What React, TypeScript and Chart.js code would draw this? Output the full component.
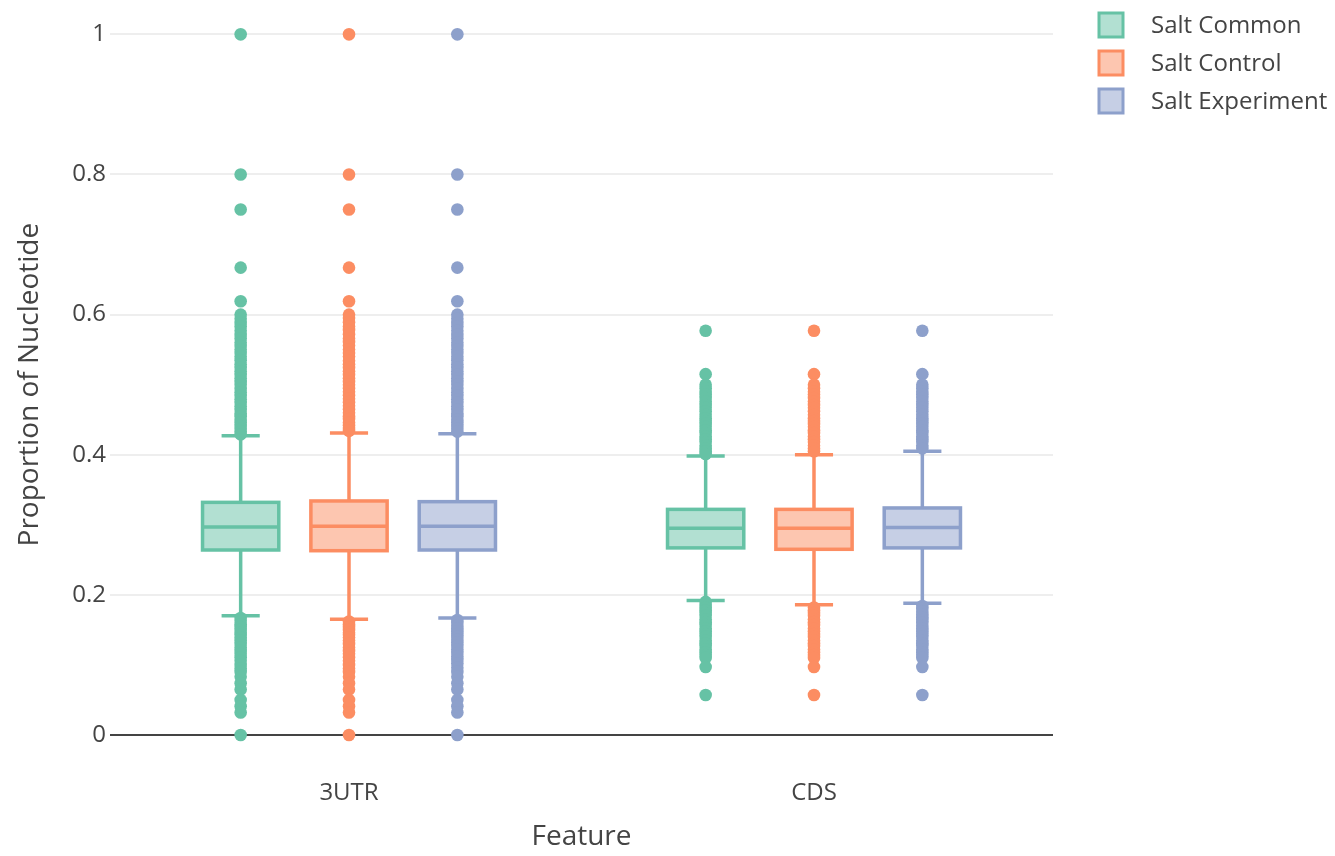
import React, { useEffect, useRef } from "react";
import { Chart, registerables } from "chart.js";

Chart.register(...registerables);

// ---------- data ----------
const categories = ["3UTR", "CDS"];
const seriesNames = ["Salt Common", "Salt Control", "Salt Experiment"];
const yTickValues = [0, 0.2, 0.4, 0.6, 0.8, 1];

// box statistics, one entry per category [3UTR, CDS]
const commonLower = [0.17, 0.192];
const commonQ1 = [0.264, 0.267];
const commonMedian = [0.297, 0.295];
const commonQ3 = [0.332, 0.322];
const commonUpper = [0.427, 0.398];

const controlLower = [0.165, 0.186];
const controlQ1 = [0.263, 0.265];
const controlMedian = [0.298, 0.295];
const controlQ3 = [0.334, 0.322];
const controlUpper = [0.431, 0.4];

const experimentLower = [0.167, 0.188];
const experimentQ1 = [0.264, 0.267];
const experimentMedian = [0.298, 0.296];
const experimentQ3 = [0.333, 0.324];
const experimentUpper = [0.43, 0.405];

// outliers
const commonOutliers3UTR = [
  1, 0.8, 0.75, 0.667, 0.619, 0.6, 0.594, 0.588, 0.583, 0.577, 0.571, 0.566, 0.56, 0.555,
  0.55, 0.545, 0.54, 0.535, 0.529, 0.524, 0.519, 0.514, 0.509, 0.504, 0.5, 0.494, 0.489,
  0.484, 0.479, 0.474, 0.469, 0.464, 0.459, 0.455, 0.45, 0.446, 0.441, 0.437, 0.433, 0.429,
  0.167, 0.163, 0.158, 0.154, 0.15, 0.146, 0.143, 0.139, 0.135, 0.13, 0.125, 0.12, 0.116,
  0.111, 0.106, 0.1, 0.095, 0.09, 0.083, 0.074, 0.065, 0.05, 0.041, 0.032, 0,
];
const commonOutliersCDS = [
  0.577, 0.515, 0.5, 0.495, 0.49, 0.486, 0.481, 0.476, 0.471, 0.467, 0.462, 0.457, 0.452,
  0.448, 0.444, 0.44, 0.435, 0.431, 0.426, 0.422, 0.418, 0.413, 0.409, 0.405, 0.401,
  0.19, 0.186, 0.182, 0.178, 0.174, 0.17, 0.165, 0.161, 0.157, 0.152, 0.148, 0.144, 0.14,
  0.135, 0.131, 0.127, 0.122, 0.118, 0.114, 0.11, 0.097, 0.057,
];
const controlOutliers3UTR = [
  1, 0.8, 0.75, 0.667, 0.619, 0.6, 0.595, 0.589, 0.583, 0.578, 0.572, 0.566, 0.561, 0.556,
  0.55, 0.545, 0.54, 0.534, 0.529, 0.524, 0.519, 0.514, 0.509, 0.504, 0.5, 0.495, 0.49,
  0.485, 0.48, 0.475, 0.47, 0.465, 0.46, 0.455, 0.451, 0.446, 0.442, 0.438, 0.434,
  0.162, 0.158, 0.154, 0.15, 0.146, 0.143, 0.139, 0.135, 0.13, 0.125, 0.12, 0.116, 0.111,
  0.106, 0.1, 0.095, 0.09, 0.083, 0.074, 0.065, 0.05, 0.041, 0.032, 0,
];
const controlOutliersCDS = [
  0.577, 0.515, 0.5, 0.495, 0.49, 0.486, 0.481, 0.476, 0.471, 0.467, 0.462, 0.457, 0.452,
  0.448, 0.444, 0.44, 0.435, 0.431, 0.426, 0.422, 0.418, 0.413, 0.409, 0.405,
  0.182, 0.178, 0.174, 0.17, 0.165, 0.161, 0.157, 0.152, 0.148, 0.144, 0.14, 0.135, 0.131,
  0.127, 0.122, 0.118, 0.114, 0.11, 0.097, 0.057,
];
const experimentOutliers3UTR = [
  1, 0.8, 0.75, 0.667, 0.619, 0.6, 0.594, 0.588, 0.583, 0.577, 0.571, 0.566, 0.56, 0.555,
  0.55, 0.545, 0.54, 0.535, 0.529, 0.524, 0.519, 0.514, 0.509, 0.504, 0.5, 0.494, 0.489,
  0.484, 0.479, 0.474, 0.469, 0.464, 0.459, 0.455, 0.45, 0.446, 0.441, 0.437, 0.433,
  0.164, 0.16, 0.156, 0.152, 0.148, 0.144, 0.14, 0.136, 0.132, 0.127, 0.122, 0.117, 0.112,
  0.107, 0.102, 0.096, 0.09, 0.083, 0.074, 0.065, 0.05, 0.041, 0.032, 0,
];
const experimentOutliersCDS = [
  0.577, 0.515, 0.5, 0.495, 0.49, 0.486, 0.481, 0.476, 0.471, 0.467, 0.462, 0.457, 0.452,
  0.448, 0.444, 0.44, 0.435, 0.431, 0.426, 0.422, 0.418, 0.413, 0.409,
  0.184, 0.18, 0.176, 0.172, 0.168, 0.164, 0.16, 0.156, 0.152, 0.148, 0.144, 0.14, 0.135,
  0.131, 0.127, 0.122, 0.118, 0.114, 0.11, 0.097, 0.057,
];

// ---------- styles / layout ----------
const seriesColors = ["#66c2a5", "#fc8d62", "#8da0cb"];
const seriesFills = ["rgba(102,194,165,0.5)", "rgba(252,141,98,0.5)", "rgba(141,160,203,0.5)"];
const groupOffsets = [-0.233, 0, 0.233];
const boxHalfWidth = 0.082;
const capHalfWidth = 0.041;
const lineW = 3.5;
const textColor = "#444";
const fontFamily = '"Open Sans", "Noto Sans", sans-serif';

const boxStats = [
  { lower: commonLower, q1: commonQ1, median: commonMedian, q3: commonQ3, upper: commonUpper },
  { lower: controlLower, q1: controlQ1, median: controlMedian, q3: controlQ3, upper: controlUpper },
  { lower: experimentLower, q1: experimentQ1, median: experimentMedian, q3: experimentQ3, upper: experimentUpper },
];
const outlierSets = [
  [commonOutliers3UTR, commonOutliersCDS],
  [controlOutliers3UTR, controlOutliersCDS],
  [experimentOutliers3UTR, experimentOutliersCDS],
];

const boxPlugin = {
  id: "boxes",
  beforeDatasetsDraw(chart: any) {
    const { ctx } = chart;
    const x = chart.scales.x;
    const y = chart.scales.y;
    boxStats.forEach((s, si) => {
      for (let ci = 0; ci < categories.length; ci++) {
        const cx = ci + groupOffsets[si];
        const xc = x.getPixelForValue(cx);
        const xl = x.getPixelForValue(cx - boxHalfWidth);
        const xr = x.getPixelForValue(cx + boxHalfWidth);
        const cl = x.getPixelForValue(cx - capHalfWidth);
        const cr = x.getPixelForValue(cx + capHalfWidth);
        const yLo = y.getPixelForValue(s.lower[ci]);
        const yQ1 = y.getPixelForValue(s.q1[ci]);
        const yMed = y.getPixelForValue(s.median[ci]);
        const yQ3 = y.getPixelForValue(s.q3[ci]);
        const yHi = y.getPixelForValue(s.upper[ci]);
        ctx.save();
        ctx.strokeStyle = seriesColors[si];
        ctx.lineWidth = lineW;
        ctx.beginPath();
        ctx.moveTo(xc, yQ3);
        ctx.lineTo(xc, yHi);
        ctx.moveTo(cl, yHi);
        ctx.lineTo(cr, yHi);
        ctx.moveTo(xc, yQ1);
        ctx.lineTo(xc, yLo);
        ctx.moveTo(cl, yLo);
        ctx.lineTo(cr, yLo);
        ctx.stroke();
        ctx.fillStyle = seriesFills[si];
        ctx.fillRect(xl, yQ3, xr - xl, yQ1 - yQ3);
        ctx.strokeRect(xl, yQ3, xr - xl, yQ1 - yQ3);
        ctx.beginPath();
        ctx.moveTo(xl, yMed);
        ctx.lineTo(xr, yMed);
        ctx.stroke();
        ctx.restore();
      }
    });
  },
};

const legendPlugin = {
  id: "sideLegend",
  afterDraw(chart: any) {
    const { ctx } = chart;
    const left = chart.chartArea.right + 46;
    seriesNames.forEach((name, i) => {
      const cy = 25 + i * 38;
      ctx.save();
      ctx.fillStyle = seriesFills[i];
      ctx.strokeStyle = seriesColors[i];
      ctx.lineWidth = 3;
      ctx.fillRect(left, cy - 12, 24, 24);
      ctx.strokeRect(left, cy - 12, 24, 24);
      ctx.fillStyle = textColor;
      ctx.font = `24px ${fontFamily}`;
      ctx.textAlign = "left";
      ctx.textBaseline = "middle";
      ctx.fillText(name, left + 52, cy + 1);
      ctx.restore();
    });
  },
};

export default function App() {
  const canvasRef = useRef<HTMLCanvasElement | null>(null);

  useEffect(() => {
    document.body.style.margin = "0";
    const canvas = canvasRef.current;
    if (!canvas) return;
    const datasets = seriesNames.map((name, si) => ({
      label: name,
      data: outlierSets[si].flatMap((vals, ci) =>
        vals.map((v) => ({ x: ci + groupOffsets[si], y: v }))
      ),
      backgroundColor: seriesColors[si],
      borderColor: seriesColors[si],
      borderWidth: 0,
      pointRadius: 6.3,
      pointHoverRadius: 6.3,
      showLine: false,
    }));

    const chart = new Chart(canvas, {
      type: "scatter",
      data: { datasets },
      plugins: [boxPlugin, legendPlugin],
      options: {
        animation: false,
        responsive: false,
        maintainAspectRatio: false,
        devicePixelRatio: 1,
        events: [],
        layout: { padding: { left: 0, top: 6, right: 282, bottom: 0 } },
        plugins: { legend: { display: false }, tooltip: { enabled: false } },
        scales: {
          x: {
            type: "linear",
            min: -0.514,
            max: 1.514,
            grid: { display: false, drawTicks: false },
            border: { display: false },
            afterBuildTicks: (scale: any) => {
              scale.ticks = categories.map((_, i) => ({ value: i }));
            },
            afterFit: (scale: any) => {
              scale.height = 93;
              scale.paddingLeft = 0;
              scale.paddingRight = 0;
            },
            ticks: {
              color: textColor,
              font: { family: fontFamily, size: 24 },
              padding: 16,
              maxRotation: 0,
              autoSkip: false,
              callback: (v: any) => categories[Math.round(Number(v))] ?? "",
            },
            title: {
              display: true,
              text: "Feature",
              color: textColor,
              font: { family: fontFamily, size: 28 },
              padding: { top: 0, bottom: 2 },
            },
          },
          y: {
            type: "linear",
            min: -0.04,
            max: 1.04,
            border: { display: false },
            grid: {
              drawTicks: false,
              color: (c: any) => (c.tick && c.tick.value === 0 ? "#444" : "#eeeeee"),
              lineWidth: 2,
            },
            afterBuildTicks: (scale: any) => {
              scale.ticks = yTickValues.map((v) => ({ value: v }));
            },
            afterFit: (scale: any) => {
              scale.width = 110;
              scale.paddingTop = 0;
              scale.paddingBottom = 0;
            },
            ticks: {
              color: textColor,
              font: { family: fontFamily, size: 24 },
              padding: 4,
              callback: (v: any) => String(Number(Number(v).toFixed(2))),
            },
            title: {
              display: true,
              text: "Proportion of Nucleotide",
              color: textColor,
              font: { family: fontFamily, size: 28 },
              padding: { top: 13, bottom: 0 },
            },
          },
        },
      },
    });
    return () => chart.destroy();
  }, []);

  return (
    <div style={{ width: 1335, height: 856 }}>
      <canvas ref={canvasRef} width={1335} height={856} style={{ display: "block" }} />
    </div>
  );
}
